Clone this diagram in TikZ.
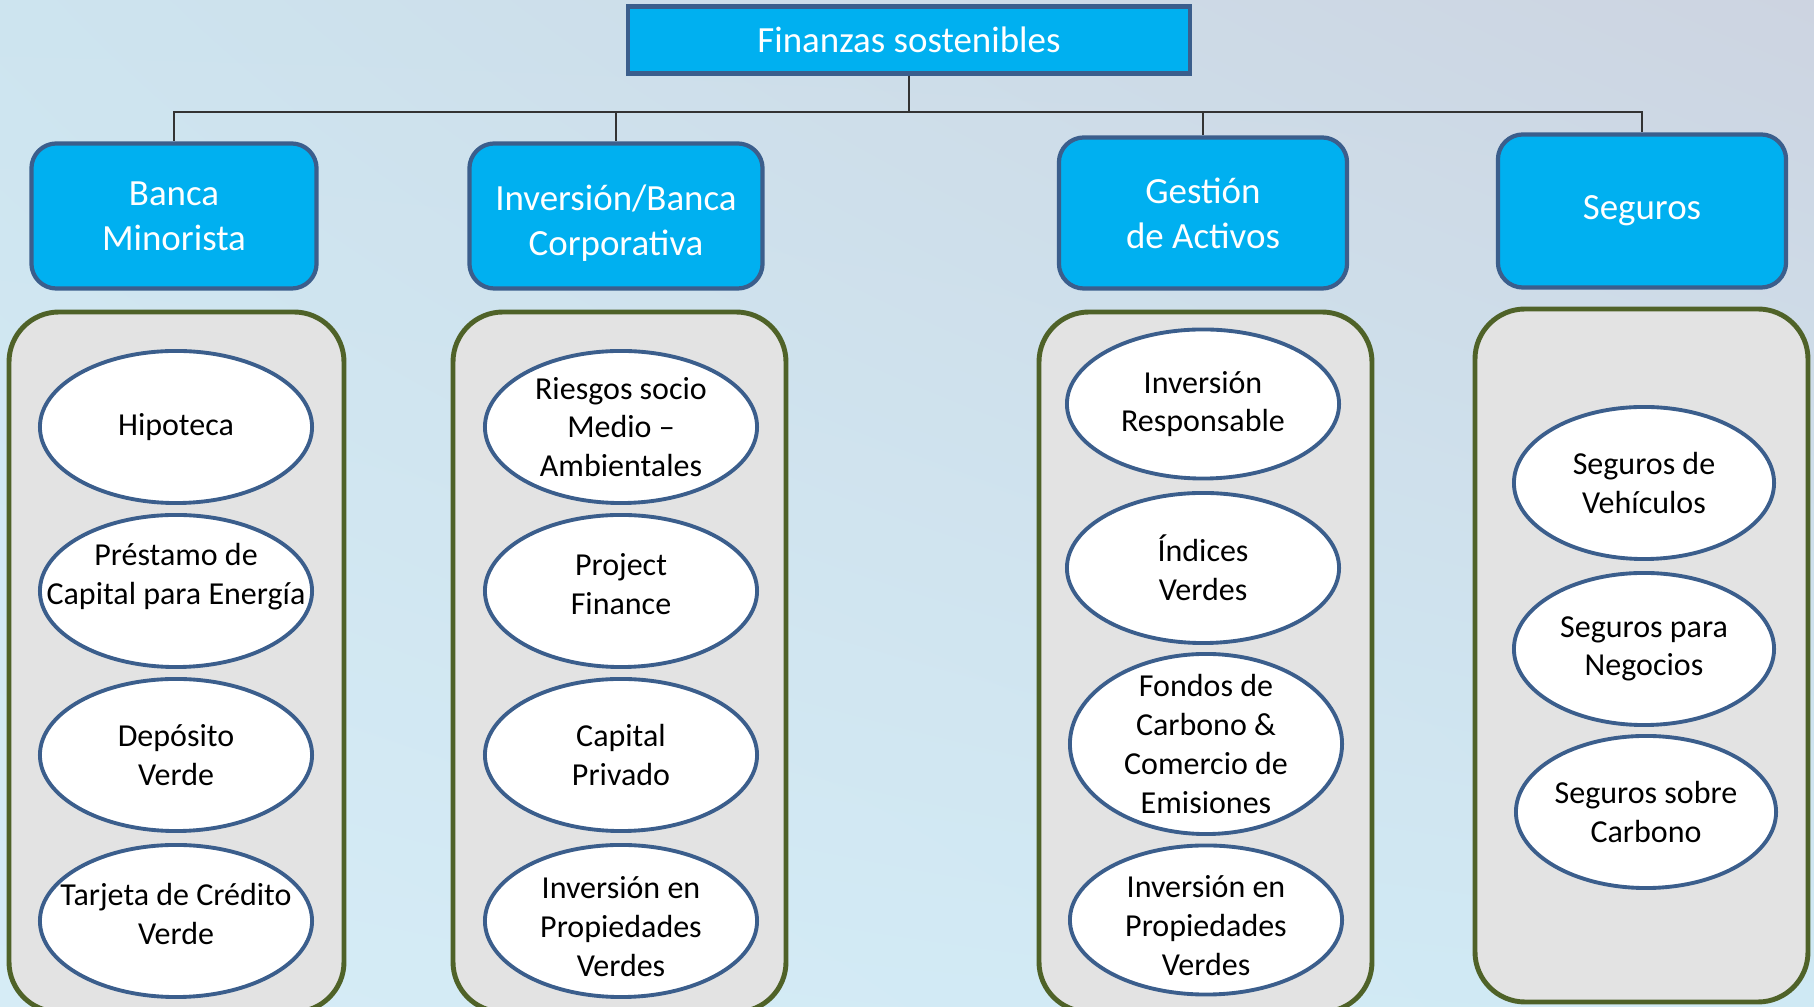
\documentclass[tikz,border=0pt]{standalone}
\usepackage{fontspec}
\setmainfont{Carlito}
\usetikzlibrary{shapes.geometric,shadings}

\definecolor{cyanfill}{HTML}{00B0F0}
\definecolor{blueline}{HTML}{3B5E8C}
\definecolor{olive}{HTML}{4F6228}
\definecolor{panelgrey}{HTML}{E3E3E3}
\definecolor{bgtl}{HTML}{CDE4EF}
\definecolor{bgtr}{HTML}{CDD4E1}
\definecolor{bgbl}{HTML}{D6ECF6}
\definecolor{bgbr}{HTML}{CFE9F4}

% struts to nudge text inside a fixed shape
\newcommand{\liftup}[1]{\rule[-#1]{0pt}{0pt}}
\newcommand{\pushdown}[1]{\rule{0pt}{#1}}

\tikzset{
  titlebox/.style={draw=blueline, line width=1.2pt, fill=cyanfill, text=white,
    minimum width=5.62cm, minimum height=0.67cm, inner sep=0pt,
    font=\fontsize{10.5}{12.8}\selectfont},
  headbox/.style={draw=blueline, line width=1.2pt, fill=cyanfill, text=white,
    rounded corners=0.25cm, minimum width=2.85cm, minimum height=1.45cm,
    inner sep=0pt, align=center, font=\fontsize{10.5}{12.8}\selectfont},
  panel/.style={draw=olive, line width=1.4pt, fill=panelgrey, rounded corners=0.5cm},
  item/.style={ellipse, draw=blueline, line width=1.1pt, fill=white,
    minimum width=2.72cm, minimum height=1.52cm, inner sep=-0.45cm, align=center,
    font=\fontsize{9.1}{11}\selectfont},
  bus/.style={line width=0.45pt, black!80}
}

\begin{document}
\begin{tikzpicture}[x=0.01cm,y=-0.01cm]

\useasboundingbox (0,0) rectangle (1814,1007);
\shade[upper left=bgtl, upper right=bgtr, lower left=bgbl, lower right=bgbr]
  (0,0) rectangle (1814,1007);

% top
\node[titlebox] (title) at (909,40) {Finanzas sostenibles};
\coordinate (busline) at (909,112);

\node[headbox] (banca) at (174,216) {Banca\\Minorista};
\node[headbox, minimum width=2.93cm] (corp) at (616,216) {\pushdown{11.5pt}Inversión/Banca\\Corporativa};
\node[headbox, minimum width=2.88cm, minimum height=1.51cm] (activos) at (1203,213) {Gestión\\de Activos};
\node[headbox, minimum width=2.88cm, minimum height=1.53cm] (seguros) at (1642,211) {Seguros};

\draw[bus] (title.south) -- (title.south |- busline) -| (banca.north);
\draw[bus] (title.south) -- (title.south |- busline) -| (corp.north);
\draw[bus] (title.south) -- (title.south |- busline) -| (activos.north);
\draw[bus] (title.south) -- (title.south |- busline) -| (seguros.north);

% panels
\draw[panel] (9,312) rectangle (344,1012);
\draw[panel] (453,312) rectangle (786,1012);
\draw[panel] (1039,312) rectangle (1372,1012);
\draw[panel] (1475,309) rectangle (1808,1002);

% Banca Minorista
\node[item] (hipoteca) at (176,427) {Hipoteca};
\node[item] (prestamo) at (176,591) {Préstamo de\\Capital para Energía\liftup{0.34cm}};
\node[item] (deposito) at (176,755) {Depósito\\Verde};
\node[item] (tarjeta) at (176,921) {Tarjeta de Crédito\\Verde\liftup{0.14cm}};

% Inversion/Banca Corporativa
\node[item] (riesgos) at (621,427) {Riesgos socio\\Medio –\\Ambientales};
\node[item] (project) at (621,591) {Project\\Finance\liftup{0.14cm}};
\node[item] (capital) at (621,755) {Capital\\Privado};
\node[item] (propcorp) at (621,921) {\pushdown{0.33cm}Inversión en\\Propiedades\\Verdes};

% Gestion de Activos
\node[item, minimum height=1.49cm] (responsable) at (1203,404) {Inversión\\Responsable};
\node[item, minimum height=1.50cm] (indices) at (1203,568) {Índices\\Verdes};
\node[item, minimum height=1.80cm] (fondos) at (1206,744) {Fondos de\\Carbono \&\\Comercio de\\Emisiones};
\node[item, minimum height=1.49cm] (propact) at (1206,920) {\pushdown{0.33cm}Inversión en\\Propiedades\\Verdes};

% Seguros
\node[item, minimum width=2.60cm] (vehiculos) at (1644,483) {Seguros de\\Vehículos};
\node[item, minimum width=2.60cm] (negocios) at (1644,649) {Seguros para\\Negocios};
\node[item, minimum width=2.60cm] (carbono) at (1646,812) {Seguros sobre\\Carbono};

\end{tikzpicture}
\end{document}
